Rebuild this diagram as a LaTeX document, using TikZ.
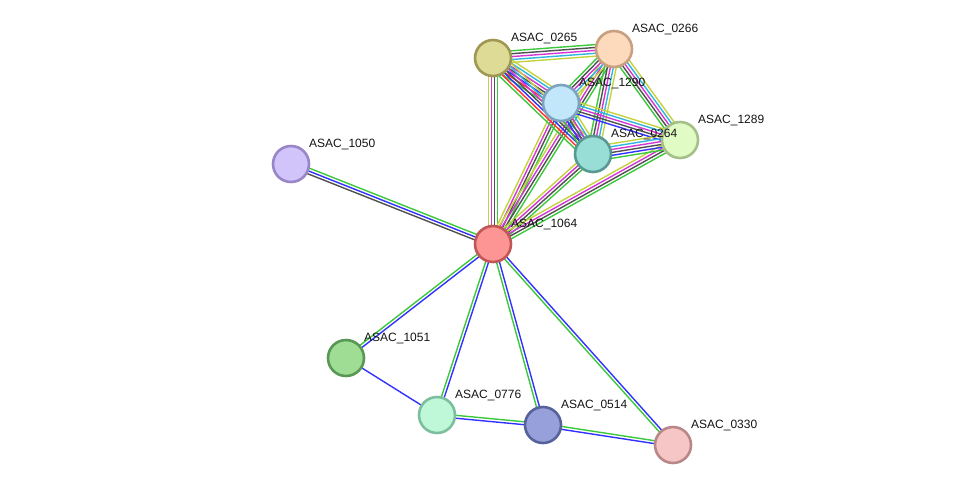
\documentclass[tikz,border=0pt]{standalone}
\usepackage{fontspec}
\setmainfont{Liberation Sans}
\usetikzlibrary{calc,backgrounds}
\definecolor{cG}{HTML}{3CC83C}
\definecolor{cR}{HTML}{FF3030}
\definecolor{cB}{HTML}{3232FF}
\definecolor{cK}{HTML}{505050}
\definecolor{cM}{HTML}{D436D4}
\definecolor{cC}{HTML}{30B4E0}
\definecolor{cY}{HTML}{C4D23C}
\newcommand\medge[3]{%
  \gdef\nn{0}\foreach \c in {#3}{\xdef\nn{\the\numexpr\nn+1\relax}}%
  \foreach \c [count=\i] in {#3}{%
    \pgfmathsetmacro\off{(\i-(\nn+1)/2)*2.9}%
    \draw[line width=1.4pt,draw=c\c] ($(#1.center)!\off pt!90:(#2.center)$) -- ($(#2.center)!\off pt!-90:(#1.center)$);}}
\tikzset{
  prot/.style={circle,minimum size=36pt,inner sep=0pt,line width=2.6pt},
  lbl/.style={anchor=base west,inner sep=0pt,text=black!92,font=\fontsize{12}{14}\selectfont}
}
\begin{document}
\begin{tikzpicture}[x=1pt,y=-1pt]
\useasboundingbox (0,0) rectangle (976,491);
\node[prot,fill={rgb,255:red,222;green,219;blue,150},draw={rgb,255:red,158;green,152;blue,82}] (n0265) at (493,58) {};
\node[prot,fill={rgb,255:red,253;green,218;blue,188},draw={rgb,255:red,200;green,160;blue,128}] (n0266) at (614,49) {};
\node[prot,fill={rgb,255:red,194;green,230;blue,250},draw={rgb,255:red,124;green,164;blue,190}] (n1290) at (561,103) {};
\node[prot,fill={rgb,255:red,152;green,221;blue,214},draw={rgb,255:red,88;green,152;blue,146}] (n0264) at (593,154) {};
\node[prot,fill={rgb,255:red,224;green,251;blue,196},draw={rgb,255:red,164;green,192;blue,136}] (n1289) at (680,140) {};
\node[prot,fill={rgb,255:red,208;green,196;blue,250},draw={rgb,255:red,152;green,134;blue,198}] (n1050) at (291,164) {};
\node[prot,fill={rgb,255:red,252;green,149;blue,148},draw={rgb,255:red,192;green,86;blue,86}] (n1064) at (493,244) {};
\node[prot,fill={rgb,255:red,159;green,221;blue,149},draw={rgb,255:red,88;green,152;blue,84}] (n1051) at (346,358) {};
\node[prot,fill={rgb,255:red,190;green,248;blue,216},draw={rgb,255:red,124;green,190;blue,158}] (n0776) at (437,415) {};
\node[prot,fill={rgb,255:red,152;green,160;blue,220},draw={rgb,255:red,86;green,98;blue,154}] (n0514) at (543,425) {};
\node[prot,fill={rgb,255:red,246;green,197;blue,197},draw={rgb,255:red,184;green,136;blue,136}] (n0330) at (673,445) {};
\begin{pgfonlayer}{background}
\medge{n1064}{n1050}{G,B,K}
\medge{n1064}{n1051}{G,B}
\medge{n1064}{n0776}{G,B}
\medge{n1064}{n0514}{G,B}
\medge{n1064}{n0330}{G,B}
\medge{n1051}{n0776}{B}
\medge{n0776}{n0514}{B,G}
\medge{n0514}{n0330}{B,G}
\medge{n1064}{n0265}{G,K,M,Y}
\medge{n1064}{n1290}{G,K,M,Y}
\medge{n1064}{n0266}{G,K,M,Y}
\medge{n1064}{n0264}{G,K,M,Y}
\medge{n1064}{n1289}{G,K,M,Y}
\medge{n0265}{n0266}{Y,C,M,K,G}
\medge{n0265}{n1290}{G,R,B,K,M,C,Y}
\medge{n0265}{n0264}{G,R,B,K,M,C,Y}
\medge{n0266}{n1290}{G,K,M,C,Y}
\medge{n0266}{n0264}{G,K,M,C,Y}
\medge{n0266}{n1289}{G,K,M,C,Y}
\medge{n1290}{n0264}{G,B,K,M,C,Y}
\medge{n1290}{n1289}{B,K,M,C,Y}
\medge{n0264}{n1289}{G,B,K,M,C,Y}
\end{pgfonlayer}
\node[lbl] (l0265) at ($(n0265)+(18,-16.5)$) {ASAC\_0265};
\node[lbl] (l0266) at ($(n0266)+(18,-16.5)$) {ASAC\_0266};
\node[lbl] (l1290) at ($(n1290)+(18,-16.5)$) {ASAC\_1290};
\node[lbl] (l0264) at ($(n0264)+(18,-16.5)$) {ASAC\_0264};
\node[lbl] (l1289) at ($(n1289)+(18,-16.5)$) {ASAC\_1289};
\node[lbl] (l1050) at ($(n1050)+(18,-16.5)$) {ASAC\_1050};
\node[lbl] (l1064) at ($(n1064)+(18,-16.5)$) {ASAC\_1064};
\node[lbl] (l1051) at ($(n1051)+(18,-16.5)$) {ASAC\_1051};
\node[lbl] (l0776) at ($(n0776)+(18,-16.5)$) {ASAC\_0776};
\node[lbl] (l0514) at ($(n0514)+(18,-16.5)$) {ASAC\_0514};
\node[lbl] (l0330) at ($(n0330)+(18,-16.5)$) {ASAC\_0330};
\end{tikzpicture}
\end{document}
